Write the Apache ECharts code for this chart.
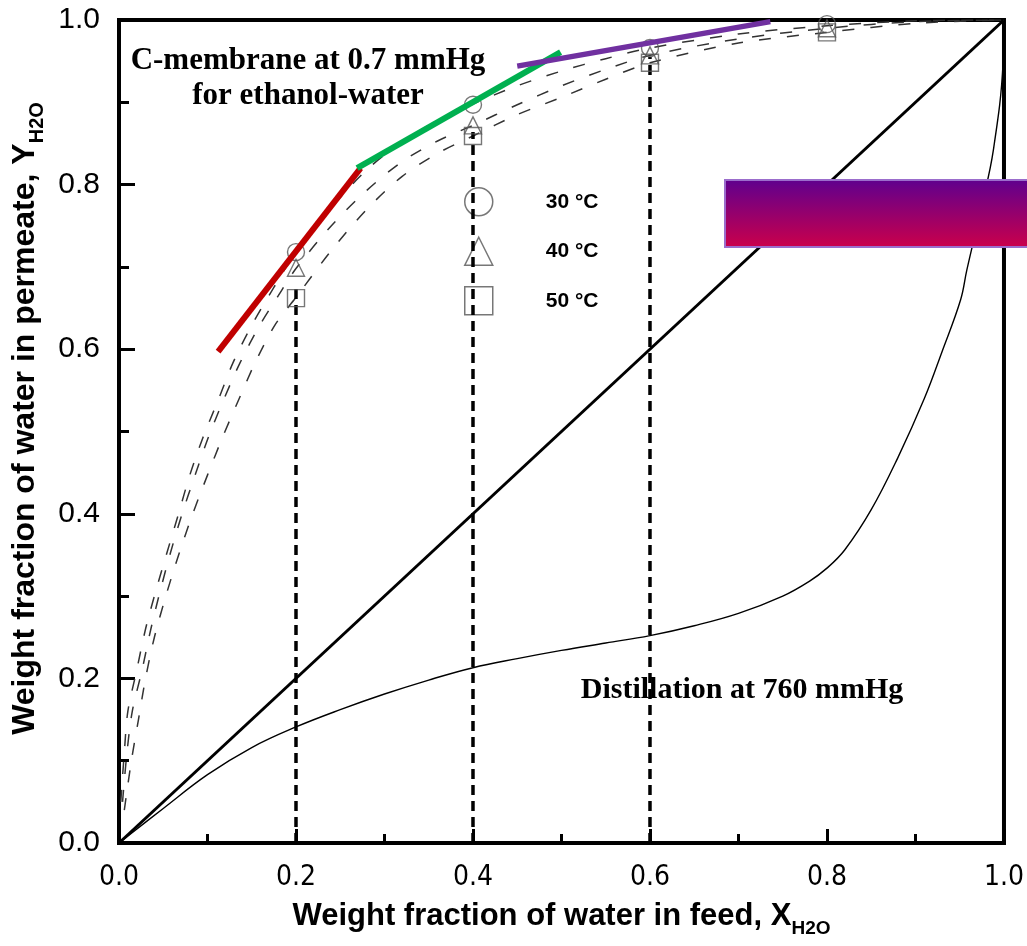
<!DOCTYPE html>
<html>
<head>
<meta charset="utf-8">
<script src="https://cdn.jsdelivr.net/npm/echarts@6/dist/echarts.min.js"></script>
<style>
  html, body { margin: 0; padding: 0; background: #fff; }
  #chart { width: 1027px; height: 946px; }
</style>
</head>
<body>
<div id="chart"></div>
<script>
// dashed model curves for the C-membrane (x = feed water, y = permeate water)
const membrane30 = [[0.002,0.05],[0.006,0.11],[0.010,0.16],[0.020,0.21],[0.030,0.26],[0.041,0.304],[0.054,0.352],[0.067,0.399],[0.080,0.447],[0.095,0.493],[0.112,0.538],[0.129,0.584],[0.150,0.629],[0.175,0.675],[0.20,0.718],[0.24,0.772],[0.28,0.818],[0.32,0.852],[0.36,0.878],[0.40,0.898],[0.45,0.920],[0.50,0.938],[0.55,0.953],[0.60,0.966],[0.70,0.983],[0.80,0.993],[0.90,0.999],[1.0,1.0]];
const membrane40 = [[0.004,0.05],[0.009,0.11],[0.015,0.16],[0.026,0.21],[0.036,0.26],[0.046,0.304],[0.058,0.352],[0.071,0.399],[0.086,0.447],[0.101,0.493],[0.118,0.538],[0.137,0.584],[0.159,0.629],[0.180,0.665],[0.20,0.698],[0.24,0.750],[0.28,0.793],[0.32,0.828],[0.36,0.853],[0.40,0.872],[0.45,0.897],[0.50,0.920],[0.55,0.940],[0.60,0.957],[0.70,0.977],[0.80,0.990],[0.90,0.998],[1.0,1.0]];
const membrane50 = [[0.006,0.04],[0.014,0.10],[0.022,0.15],[0.030,0.20],[0.040,0.25],[0.054,0.304],[0.068,0.352],[0.083,0.399],[0.100,0.447],[0.117,0.493],[0.135,0.538],[0.154,0.584],[0.176,0.629],[0.20,0.663],[0.24,0.720],[0.28,0.770],[0.32,0.810],[0.36,0.838],[0.40,0.859],[0.45,0.885],[0.50,0.906],[0.55,0.928],[0.60,0.948],[0.70,0.972],[0.80,0.985],[0.90,0.996],[1.0,1.0]];

// measured points
const exp30 = [[0.2,0.718],[0.4,0.897],[0.6,0.966],[0.8,0.995]];
const exp40 = [[0.2,0.699],[0.4,0.872],[0.6,0.957],[0.8,0.990]];
const exp50 = [[0.2,0.662],[0.4,0.859],[0.6,0.948],[0.8,0.985]];

// distillation VLE at 760 mmHg
const distillation = [[0,0],[0.05,0.042],[0.10,0.083],[0.15,0.116],[0.20,0.141],[0.25,0.162],[0.30,0.181],[0.35,0.198],[0.40,0.213],[0.45,0.224],[0.50,0.234],[0.55,0.243],[0.60,0.252],[0.65,0.264],[0.70,0.279],[0.75,0.300],[0.78,0.318],[0.80,0.334],[0.82,0.356],[0.85,0.405],[0.88,0.468],[0.91,0.540],[0.93,0.597],[0.951,0.660],[0.958,0.696],[0.975,0.775],[0.988,0.842],[0.999,0.948],[1.0,1.0]];
const diagonal = [[0,0],[1,1]];

// coloured segments
const redSeg = [[0.112,0.597],[0.273,0.820]];
const greenSeg = [[0.269,0.820],[0.499,0.961]];
const purpleSeg = [[0.450,0.944],[0.736,0.998]];

// vertical guides
const guide02 = [[0.2,0],[0.2,0.675]];
const guide04 = [[0.4,0],[0.4,0.864]];
const guide06 = [[0.6,0],[0.6,0.955]];

const legendNames = ['30 °C', '40 °C', '50 °C'];

const chart = echarts.init(document.getElementById('chart'));

const sans = '"Liberation Sans", Arial, sans-serif';
const narrow = '"Liberation Sans Narrow", "Arial Narrow", "DejaVu Sans Condensed", sans-serif';
const serif = '"Liberation Serif", "Times New Roman", serif';

function dashed(data) {
  return {
    type: 'line', data: data, smooth: 0.3, symbol: 'none', silent: true, z: 2,
    lineStyle: { color: '#333', width: 1.5, type: [12, 16] }
  };
}
function solid(data, color, width, z, smooth) {
  return {
    type: 'line', data: data, symbol: 'none', silent: true, z: z, smooth: smooth || false,
    lineStyle: { color: color, width: width }
  };
}
function guide(data) {
  return {
    type: 'line', data: data, symbol: 'none', silent: true, z: 4,
    lineStyle: { color: '#000', width: 3.5, type: [10, 6] }
  };
}
function points(name, data, symbol) {
  return {
    name: name, type: 'scatter', data: data, symbol: symbol, symbolSize: 17, z: 5,
    itemStyle: { color: 'rgba(0,0,0,0)', borderColor: '#555', borderWidth: 1.4 }
  };
}

chart.setOption({
  animation: false,
  backgroundColor: '#fff',
  grid: { left: 119, top: 20, width: 885, height: 823, show: true, borderColor: '#000', borderWidth: 4, backgroundColor: 'transparent' },
  xAxis: {
    type: 'value', min: 0, max: 1, interval: 0.2,
    axisLine: { lineStyle: { color: '#000', width: 4 } },
    axisTick: { inside: true, length: 14, lineStyle: { color: '#000', width: 3 } },
    minorTick: { show: true, splitNumber: 2, length: 9, lineStyle: { color: '#000', width: 3 } },
    splitLine: { show: false },
    axisLabel: { formatter: v => v.toFixed(1), fontSize: 28, fontFamily: narrow, color: '#000', margin: 21 },
    name: '{m|Weight fraction of water in feed, X}{s|H2O}',
    nameLocation: 'middle', nameGap: 58,
    nameTextStyle: {
      rich: {
        m: { fontSize: 31, fontWeight: 'bold', fontFamily: sans, color: '#000', padding: [0, 0, 6, 0] },
        s: { fontSize: 19, fontWeight: 'bold', fontFamily: sans, color: '#000', verticalAlign: 'bottom' }
      }
    }
  },
  yAxis: {
    type: 'value', min: 0, max: 1, interval: 0.2,
    axisLine: { lineStyle: { color: '#000', width: 4 } },
    axisTick: { inside: true, length: 16, lineStyle: { color: '#000', width: 3 } },
    minorTick: { show: true, splitNumber: 2, length: 10, lineStyle: { color: '#000', width: 3 } },
    splitLine: { show: false },
    axisLabel: { formatter: v => v.toFixed(1), fontSize: 30, fontFamily: sans, color: '#000', margin: 19 },
    name: '{m|Weight fraction of water in permeate, Y}{s|H2O}',
    nameLocation: 'middle', nameGap: 72,
    nameTextStyle: {
      padding: [0, 0, 0, 26],
      rich: {
        m: { fontSize: 32, fontWeight: 'bold', fontFamily: sans, color: '#000', padding: [0, 0, 6, 0] },
        s: { fontSize: 20, fontWeight: 'bold', fontFamily: sans, color: '#000', verticalAlign: 'bottom' }
      }
    }
  },
  legend: {
    orient: 'vertical', left: 459, top: 182, itemWidth: 28, itemHeight: 28, itemGap: 20,
    selectedMode: false,
    data: [
      { name: legendNames[0], icon: 'circle' },
      { name: legendNames[1], icon: 'triangle' },
      { name: legendNames[2], icon: 'rect' }
    ],
    itemStyle: { color: 'rgba(0,0,0,0)', borderColor: '#555', borderWidth: 1.5 },
    textStyle: { fontSize: 21, fontWeight: 'bold', fontFamily: sans, color: '#000', padding: [0, 0, 0, 48] }
  },
  series: [
    solid(diagonal, '#000', 3, 1),
    solid(distillation, '#000', 1.4, 1, 0.4),
    dashed(membrane30),
    dashed(membrane40),
    dashed(membrane50),
    guide(guide02),
    guide(guide04),
    guide(guide06),
    points(legendNames[0], exp30, 'circle'),
    points(legendNames[1], exp40, 'triangle'),
    points(legendNames[2], exp50, 'rect'),
    solid(redSeg, '#c00000', 6, 6),
    solid(greenSeg, '#00b050', 6, 6),
    solid(purpleSeg, '#7030a0', 5.5, 6)
  ],
  graphic: [
    { type: 'text', position: [308, 61], style: { text: 'C-membrane at 0.7 mmHg', align: 'center', verticalAlign: 'middle', font: 'bold 31px ' + serif, fill: '#000' } },
    { type: 'text', position: [308, 96], style: { text: 'for ethanol-water', align: 'center', verticalAlign: 'middle', font: 'bold 31px ' + serif, fill: '#000' } },
    { type: 'text', position: [742, 690], style: { text: 'Distillation at 760 mmHg', align: 'center', verticalAlign: 'middle', font: 'bold 30px ' + serif, fill: '#000' } },
    {
      type: 'rect', z: 100, shape: { x: 725, y: 180, width: 310, height: 67 },
      style: {
        fill: new echarts.graphic.LinearGradient(0, 0, 0, 1, [
          { offset: 0, color: '#5e008f' },
          { offset: 1, color: '#cc004a' }
        ]),
        stroke: '#9b6dcc', lineWidth: 2
      }
    }
  ]
});
</script>
</body>
</html>
